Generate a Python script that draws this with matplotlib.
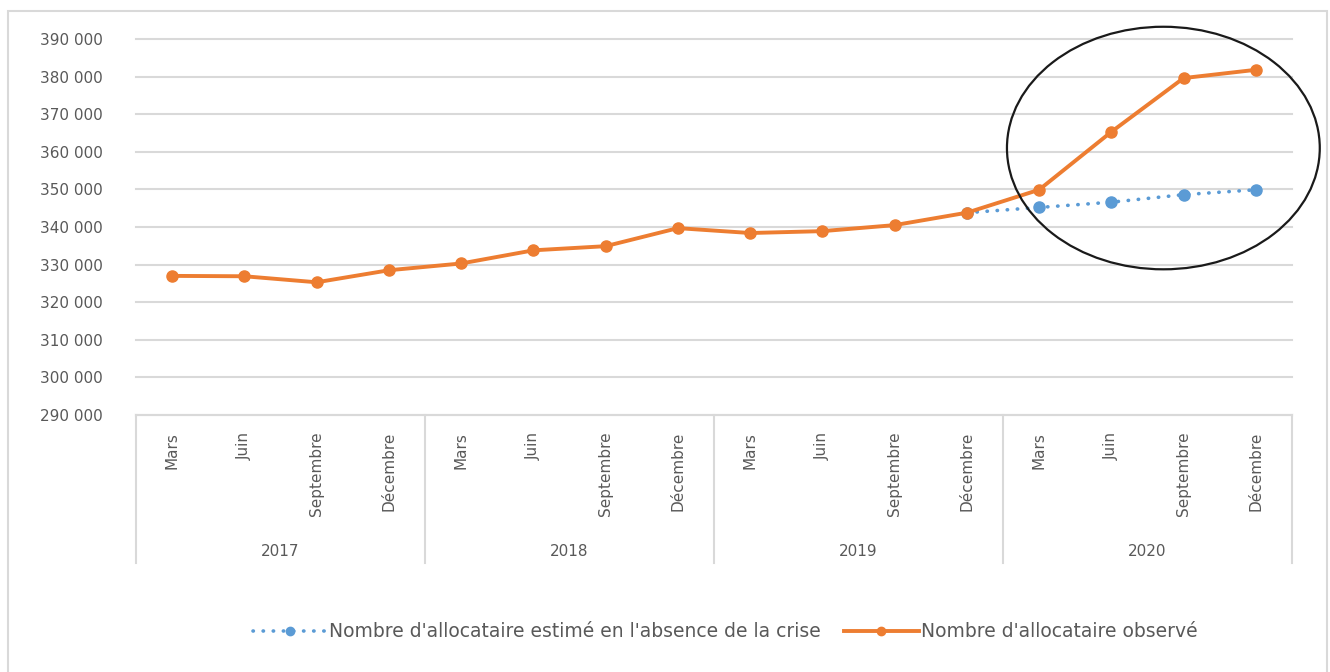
import matplotlib.pyplot as plt
from matplotlib.patches import Ellipse, Rectangle
from matplotlib.ticker import FuncFormatter
import matplotlib.transforms as mtransforms

years = ['2017', '2018', '2019', '2020']
months = ['Mars', 'Juin', 'Septembre', 'Décembre']

observe = [327000, 326900, 325300, 328500,
           330300, 333800, 334900, 339700,
           338400, 338900, 340500, 343800,
           349900, 365300, 379600, 381800]

# l'estimation hors crise part du dernier point observé de 2019
estime_idx = [11, 12, 13, 14, 15]
estime = [343800, 345200, 346600, 348600, 349900]

orange = '#ED7D31'
bleu = '#5B9BD5'
gris = '#595959'
grille = '#D9D9D9'

fig = plt.figure(figsize=(13.3, 6.72), dpi=100)
ax = fig.add_axes([0.1023, 0.3824, 0.8691, 0.5596])

# cadre gris autour du graphique
fig.patches.append(Rectangle((8 / 1330, -0.01), 1319 / 1330, (661 + 7) / 672,
                             transform=fig.transFigure, fill=False,
                             edgecolor=grille, linewidth=1.5))

x = list(range(len(observe)))
ax.plot(estime_idx, estime, linestyle=(0, (0.1, 2.7)), dash_capstyle='round',
        color=bleu, linewidth=2.6, marker='o', markersize=8,
        label="Nombre d'allocataire estimé en l'absence de la crise", zorder=3)
ax.plot(x, observe, color=orange, linewidth=2.8, marker='o', markersize=8,
        label="Nombre d'allocataire observé", zorder=4)

ax.set_xlim(-0.5, len(observe) - 0.5)
ax.set_ylim(290000, 390000)
ax.set_yticks(range(290000, 390001, 10000))
ax.yaxis.set_major_formatter(FuncFormatter(lambda v, p: f'{int(v):,}'.replace(',', ' ')))
ax.tick_params(axis='y', length=0, pad=24, labelsize=11, labelcolor=gris)
ax.grid(axis='y', color=grille, linewidth=1.5)
for g in ax.get_ygridlines():
    g.set_clip_on(False)
ax.set_axisbelow(True)
for s in ['top', 'right', 'left']:
    ax.spines[s].set_visible(False)
ax.spines['bottom'].set_color(grille)
ax.spines['bottom'].set_linewidth(1.5)

# axe des catégories : mois puis années
ax.set_xticks(x)
ax.set_xticklabels(months * len(years), rotation=90, va='top')
ax.tick_params(axis='x', length=0, pad=12, labelsize=11, labelcolor=gris)

trans = mtransforms.blended_transform_factory(ax.transData, ax.transAxes)
for i in range(len(years) + 1):
    xs = i * 4 - 0.5
    ax.plot([xs, xs], [0, -0.394], transform=trans, color=grille,
            linewidth=1.5, clip_on=False)
for i, an in enumerate(years):
    ax.text(i * 4 + 1.5, -0.362, an, transform=trans, ha='center', va='center',
            fontsize=11, color=gris)

# ellipse autour de l'année 2020
ax.add_patch(Ellipse((13.72, 361000), 4.33, 64500, fill=False,
                     edgecolor='#1a1a1a', linewidth=1.6, clip_on=False, zorder=5))

fig.legend(loc='center', bbox_to_anchor=(0.545, 0.06), ncol=2, frameon=False,
           fontsize=13.5, handlelength=4.0, columnspacing=1.2, handletextpad=0.1,
           markerscale=0.75, labelcolor=gris)

fig.savefig('out.png', dpi=100)
